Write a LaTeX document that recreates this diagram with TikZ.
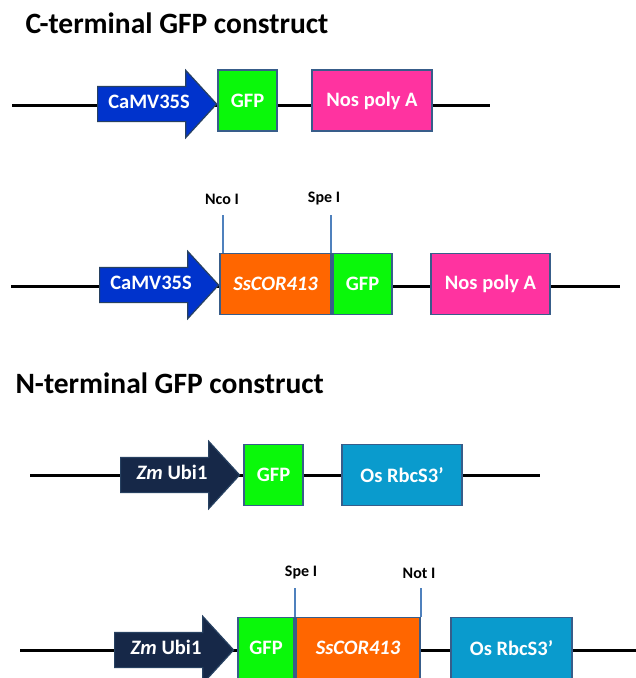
\documentclass[tikz,border=0pt]{standalone}
\usepackage{fontspec}
\setmainfont{Carlito}
\usepackage{tikz}
\usetikzlibrary{shapes.arrows, positioning, calc}
\usepackage{xcolor}
\definecolor{promBlue}{RGB}{0,51,204}
\definecolor{ubiNavy}{RGB}{22,40,72}
\definecolor{gfpGreen}{RGB}{10,248,10}
\definecolor{nosPink}{RGB}{255,51,160}
\definecolor{corOrange}{RGB}{255,102,0}
\definecolor{rbcsTeal}{RGB}{10,155,205}
\definecolor{edgeBlue}{RGB}{56,93,138}
\definecolor{siteBlue}{RGB}{79,129,189}

\begin{document}
\begin{tikzpicture}[
  x=1pt, y=-1pt,
  part/.style={
    rectangle, draw=edgeBlue, line width=1.8pt, fill=#1,
    minimum height=61pt, inner sep=0pt,
    font=\fontsize{20.5}{24}\selectfont\bfseries, text=white
  },
  promoter/.style={
    single arrow, draw=edgeBlue!70!black, line width=1.2pt, fill=#1,
    single arrow head extend=16pt, single arrow tip angle=95,
    text height=12pt, text depth=4pt, inner ysep=9pt, inner xsep=2pt,
    minimum height=119pt, anchor=tail,
    font=\fontsize{20.5}{24}\selectfont\bfseries, text=white
  },
  backbone/.style={line width=3pt, black},
  site/.style={font=\fontsize{16}{18}\selectfont\bfseries, text=black},
  cut/.style={draw=siteBlue, line width=1.4pt},
  heading/.style={anchor=base west, font=\fontsize{29.5}{34}\selectfont\bfseries}
]
  \useasboundingbox (0,0) rectangle (636,678);

  % C-terminal GFP
  \node[heading] (titleC) at (22,33) {C-terminal GFP construct};

  \coordinate (r1a) at (12,105);
  \coordinate (r1b) at (490,105);
  \draw[backbone] (r1a) -- (r1b);
  \node[promoter=promBlue] (prom1) at (97,104) {CaMV35S};
  \node[part=gfpGreen, minimum width=59pt] (gfp1) at (247.5,100.5) {GFP};
  \node[part=nosPink, minimum width=120pt] (nos1) at (372,100.5) {Nos poly A};

  \coordinate (r2a) at (11,286);
  \coordinate (r2b) at (620,286);
  \draw[backbone] (r2a) -- (r2b);
  \node[promoter=promBlue] (prom2) at (99,285) {CaMV35S};
  \node[part=corOrange, minimum width=111pt] (cor2) at (275.5,284)
    {\itshape SsCOR413};
  \node[part=gfpGreen, minimum width=59pt] (gfp2) at (362.5,284) {GFP};
  \node[part=nosPink, minimum width=119pt] (nos2) at (490.5,284) {Nos poly A};

  % N-terminal GFP
  \node[heading] (titleN) at (12,393) {N-terminal GFP construct};

  \coordinate (r3a) at (30,475);
  \coordinate (r3b) at (540,475);
  \draw[backbone] (r3a) -- (r3b);
  \node[promoter=ubiNavy] (prom3) at (120,475) {\textit{Zm} Ubi1};
  \node[part=gfpGreen, minimum width=59pt] (gfp3) at (273.5,475) {GFP};
  \node[part=rbcsTeal, minimum width=120pt] (os3) at (402,475) {Os RbcS3’};

  \coordinate (r4a) at (20,650);
  \coordinate (r4b) at (636,650);
  \draw[backbone] (r4a) -- (r4b);
  \node[promoter=ubiNavy] (prom4) at (114,650) {\textit{Zm} Ubi1};
  \node[part=gfpGreen, minimum width=56pt] (gfp4) at (266,648) {GFP};
  \node[part=corOrange, minimum width=124pt] (cor4) at (358,648)
    {\itshape SsCOR413};
  \node[part=rbcsTeal, minimum width=121pt] (os4) at (511.5,648) {Os RbcS3’};

  % Labels
  \node[site] (nco) at (222,199) {Nco I};
  \node[site] (spe2) at (324,199) {Spe I};
  \node[site] (spe4) at (301,573) {Spe I};
  \node[site] (not4) at (419,573) {Not I};
  \coordinate (ncoTop) at (223,215);
  \coordinate (spe2Top) at (331,215);
  \coordinate (spe4Top) at (295,588);
  \coordinate (not4Top) at (421,588);

  \foreach \a/\b in {ncoTop/cor2, spe2Top/cor2, spe4Top/cor4, not4Top/cor4}
    \draw[cut] (\a) -- (\a |- \b.north);
\end{tikzpicture}
\end{document}
